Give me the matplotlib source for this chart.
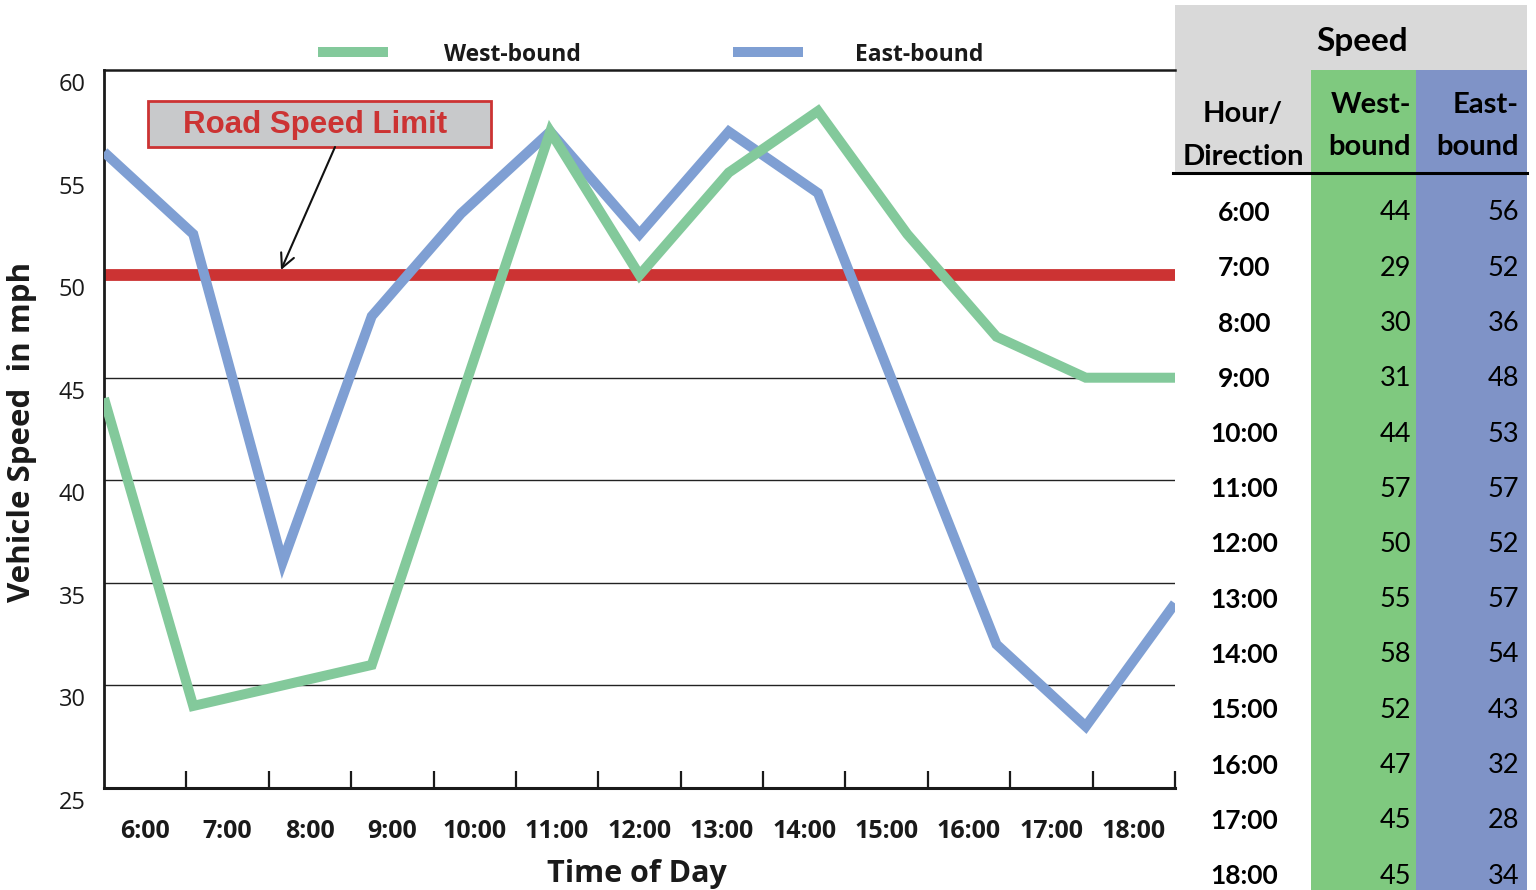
import matplotlib
matplotlib.use("Agg")
import matplotlib.pyplot as plt
from matplotlib.lines import Line2D
from matplotlib.patches import Rectangle, FancyArrowPatch
import matplotlib.transforms as mtransforms

# ---------------- data ----------------
hours = ["6:00", "7:00", "8:00", "9:00", "10:00", "11:00", "12:00",
         "13:00", "14:00", "15:00", "16:00", "17:00", "18:00"]
west_bound = [44, 29, 30, 31, 44, 57, 50, 55, 58, 52, 47, 45, 45]
east_bound = [56, 52, 36, 48, 53, 57, 52, 57, 54, 43, 32, 28, 34]
series_names = ["West-bound", "East-bound"]
speed_limit = 50
y_ticks = [25, 30, 35, 40, 45, 50, 55, 60]
grid_values = [30, 35, 40, 45]

GREEN = "#83C99B"
BLUE = "#7F9FD3"
RED = "#CC3333"
TGREEN = "#7FC97F"
TBLUE = "#7F93C7"
INK = "#1a1a1a"

W, H = 1536, 890
fig = plt.figure(figsize=(W / 100, H / 100), dpi=100)

def fx(px):
    return px / W

def fy(py):
    return 1 - py / H

CHART_FONT = ["Open Sans", "DejaVu Sans"]
TABLE_FONT = ["Lato", "DejaVu Sans"]

left, right, top, bottom = 104, 1175, 70, 788
ax = fig.add_axes([fx(left), fy(bottom), fx(right) - fx(left), fy(top) - fy(bottom)])

n = len(hours)
xs = list(range(n))
ax.set_xlim(0, n - 1)
ax.set_ylim(25, 60)

for g in grid_values:
    ax.axhline(g, color="#222222", lw=1.0, zorder=1)

ax.axhline(speed_limit, color=RED, lw=8.5, zorder=2, solid_capstyle="butt")

ax.plot(xs, east_bound, color=BLUE, lw=7.2, zorder=3, solid_joinstyle="miter",
        solid_capstyle="butt")
ax.plot(xs, west_bound, color=GREEN, lw=7.2, zorder=4, solid_joinstyle="miter",
        solid_capstyle="butt")

ax.spines["right"].set_visible(False)
ax.spines["left"].set_linewidth(2.0)
ax.spines["bottom"].set_linewidth(2.2)
ax.spines["top"].set_linewidth(1.8)
for s in ["left", "bottom", "top"]:
    ax.spines[s].set_color(INK)

ax.set_yticks(y_ticks)
ax.tick_params(axis="y", length=0, pad=13, labelsize=17)
for lab in ax.get_yticklabels():
    lab.set_fontfamily(CHART_FONT)
    lab.set_color(INK)
    lab.set_transform(lab.get_transform() + mtransforms.ScaledTranslation(0, -12 / 100, fig.dpi_scale_trans))

step = (n - 1) / n
ax.set_xticks([k * step for k in range(1, n + 1)])
ax.set_xticklabels([])
ax.tick_params(axis="x", which="major", direction="in", length=12.5, width=1.6, color=INK)
ax.set_xticks([(k + 0.5) * step for k in range(n)], minor=True)
ax.set_xticklabels(hours, minor=True)
ax.tick_params(axis="x", which="minor", length=0, pad=22, labelsize=18)
for lab in ax.get_xticklabels(minor=True):
    lab.set_fontfamily(CHART_FONT)
    lab.set_fontweight("bold")
    lab.set_color(INK)

fig.text(fx(637), fy(874), "Time of Day", ha="center", va="center",
         fontsize=22, fontweight="bold", family=CHART_FONT, color=INK)
fig.text(fx(22), fy(432), "Vehicle Speed  in mph", ha="center", va="center",
         rotation=90, fontsize=22.5, fontweight="bold", family=CHART_FONT, color=INK)

# legend (manual)
fig.add_artist(Line2D([fx(318), fx(388)], [fy(52), fy(52)], color=GREEN, lw=7.2,
                      solid_capstyle="butt"))
fig.text(fx(444), fy(55), series_names[0], ha="left", va="center", fontsize=16.5,
         fontweight="bold", family=CHART_FONT, color=INK)
fig.add_artist(Line2D([fx(733), fx(803)], [fy(52), fy(52)], color=BLUE, lw=7.2,
                      solid_capstyle="butt"))
fig.text(fx(855), fy(55), series_names[1], ha="left", va="center", fontsize=16.5,
         fontweight="bold", family=CHART_FONT, color=INK)

# annotation box
fig.add_artist(Rectangle((fx(148), fy(147)), fx(491) - fx(148), fy(101) - fy(147),
                         facecolor="#C8C9CB", edgecolor=RED, lw=2.0,
                         transform=fig.transFigure))
fig.text(fx(315), fy(125), "Road Speed Limit", ha="center", va="center",
         fontsize=22.5, fontweight="bold", family=["Liberation Sans", "DejaVu Sans"], color=RED)
fig.add_artist(FancyArrowPatch(
    (fx(335), fy(147)), (fx(281), fy(270)), transform=fig.transFigure,
    arrowstyle="->,head_length=10,head_width=5", color="#111111", lw=1.5,
    shrinkA=0, shrinkB=0, mutation_scale=1))

# ---------------- table ----------------
def rect(x0, y0, x1, y1, color):
    fig.add_artist(Rectangle((fx(x0), fy(y1)), fx(x1) - fx(x0), fy(y0) - fy(y1),
                             facecolor=color, edgecolor="none", transform=fig.transFigure,
                             zorder=0))

rect(1175, 5, 1527, 173, "#D9D9D9")
rect(1311, 70, 1416, 890, TGREEN)
rect(1416, 70, 1527, 890, TBLUE)
fig.add_artist(Line2D([fx(1173), fx(1527)], [fy(173), fy(173)], color="black", lw=2.2))

fig.text(fx(1362), fy(42), "Speed", ha="center", va="center", fontsize=24,
         fontweight="bold", family=TABLE_FONT)
fig.text(fx(1243), fy(114), "Hour/", ha="center", va="center", fontsize=21,
         fontweight="bold", family=TABLE_FONT)
fig.text(fx(1243), fy(157), "Direction", ha="center", va="center", fontsize=21,
         fontweight="bold", family=TABLE_FONT)
fig.text(fx(1411), fy(105), "West-", ha="right", va="center", fontsize=21,
         fontweight="bold", family=TABLE_FONT)
fig.text(fx(1411), fy(147), "bound", ha="right", va="center", fontsize=21,
         fontweight="bold", family=TABLE_FONT)
fig.text(fx(1519), fy(105), "East-", ha="right", va="center", fontsize=21,
         fontweight="bold", family=TABLE_FONT)
fig.text(fx(1519), fy(147), "bound", ha="right", va="center", fontsize=21,
         fontweight="bold", family=TABLE_FONT)

row0, row_step = 213, 55.25
for i, (h, w, e) in enumerate(zip(hours, west_bound, east_bound)):
    y = row0 + i * row_step
    fig.text(fx(1244), fy(y), h, ha="center", va="center", fontsize=19,
             fontweight="bold", family=TABLE_FONT)
    fig.text(fx(1411), fy(y), str(w), ha="right", va="center", fontsize=19.5,
             family=TABLE_FONT)
    fig.text(fx(1519), fy(y), str(e), ha="right", va="center", fontsize=19.5,
             family=TABLE_FONT)

fig.savefig("out.png", dpi=100)
